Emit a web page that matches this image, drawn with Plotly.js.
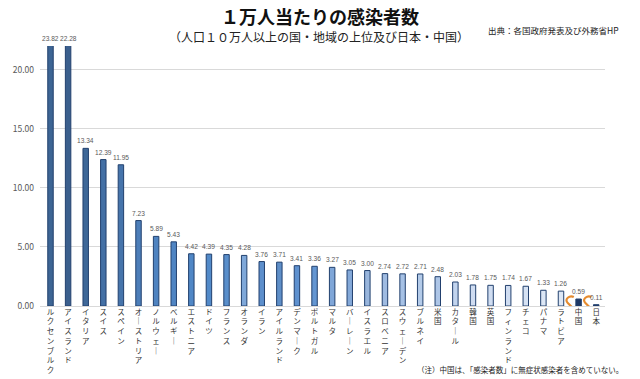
<!DOCTYPE html>
<html>
<head>
<meta charset="utf-8">
<script src="https://cdn.plot.ly/plotly-3.0.1.min.js"></script>
<style>html,body{margin:0;padding:0;background:#fff;}#chart{width:640px;height:379px;}</style>
</head>
<body>
<div id="chart"></div>
<script>
const categories = ["ルクセンブルク","アイスランド","イタリア","スイス","スペイン","オーストリア","ノルウェー","ベルギー","エストニア","ドイツ","フランス","オランダ","イラン","アイルランド","デンマーク","ポルトガル","マルタ","バーレーン","イスラエル","スロベニア","スウェーデン","ブルネイ","米国","カタール","韓国","英国","フィンランド","チェコ","パナマ","ラトビア","中国","日本"];
const values = [23.82,22.28,13.34,12.39,11.95,7.23,5.89,5.43,4.42,4.39,4.35,4.28,3.76,3.71,3.41,3.36,3.27,3.05,3.00,2.74,2.72,2.71,2.48,2.03,1.78,1.75,1.74,1.67,1.33,1.26,0.59,0.11];
const yTicks = [0,5,10,15,20];
const yMax = 22;
const breakPositions = [29.5, 30.5];

const barColors = ["#3d6594","#3b5f8d","#3f6898","#4470a5","#4674ab","#4d7eb9","#4f83c0","#5085c3","#5087c6","#528ac9","#5a8fcb","#7fa8d9","#5d8fcc","#5f8fc8","#5e91cf","#6496d2","#7fa6d8","#84a9d9","#98b5dc","#9fbbe1","#a6c1e5","#b4cbe9","#aec6e7","#c2d4ee","#cfdcf1","#d0ddf1","#d0ddf1","#d6e2f3","#dde7f5","#dde7f5","#1f3864","#1f3864"];

const FONT = '"Noto Sans CJK JP", "Noto Sans", sans-serif';
const NUMFONT = '"Liberation Sans", sans-serif';
const tickText = categories.map(c => c.replace(/ー/g, "｜").split("").join("<br>"));

const annotations = values.map((v, i) => ({
  x: categories[i], y: Math.min(v, yMax), xref: 'x', yref: 'y',
  text: v.toFixed(2), showarrow: false, yanchor: 'bottom', yshift: 2,
  font: {family: NUMFONT, size: 6.6, color: '#595959'}
}));
annotations.push({
  xref: 'paper', yref: 'paper', x: 0.494, y: 1.038, xanchor: 'center', yanchor: 'middle',
  text: '（人口１０万人以上の国・地域の上位及び日本・中国）', showarrow: false,
  font: {family: FONT, size: 12, color: '#222'}
});
annotations.push({
  xref: 'paper', yref: 'paper', x: 0.79, y: 1.0615, xanchor: 'left', yanchor: 'middle',
  text: '出典：各国政府発表及び外務省HP', showarrow: false,
  font: {family: FONT, size: 8.5, color: '#222'}
});
annotations.push({
  xref: 'paper', yref: 'paper', x: 1.0355, y: -0.246, xanchor: 'right', yanchor: 'middle',
  text: '（注）中国は、「感染者数」に無症状感染者を含めていない。', showarrow: false,
  font: {family: FONT, size: 7.5, color: '#222'}
});

const shapes = breakPositions.map(p => ({
  type: 'path', xref: 'x', yref: 'y', xsizemode: 'pixel', ysizemode: 'pixel',
  xanchor: p, yanchor: 0,
  path: 'M 4 9 C 0 11, -6 7, -2 3 L 2 -1 C 6 -5, 0 -9, -4 -7',
  line: {color: '#e58b2f', width: 2.2}, layer: 'above'
}));

const trace = {
  type: 'bar', x: categories, y: values,
  marker: {color: barColors, line: {color: '#22406e', width: 1}},
  hoverinfo: 'x+y'
};

const layout = {
  width: 640, height: 379,
  margin: {l: 40, r: 35, t: 46, b: 73},
  paper_bgcolor: '#fff', plot_bgcolor: '#fff',
  font: {family: FONT, color: '#595959'},
  title: {text: '<b>１万人当たりの感染者数</b>', x: 0.5, xanchor: 'center', y: 1 - 18/379, yanchor: 'middle', yref: 'container',
    font: {family: FONT, size: 18, color: '#111'}},
  bargap: 0.69,
  showlegend: false,
  xaxis: {type: 'category', tickvals: categories, ticktext: tickText, tickangle: 0,
    tickfont: {family: FONT, size: 7.5, color: '#333'}, showgrid: false, showline: false, ticks: ''},
  yaxis: {range: [0, yMax], tickvals: yTicks, tickformat: '.2f', tickfont: {family: FONT, size: 8.5, color: '#595959'},
    ticklabelstandoff: 5,
    gridcolor: '#d9d9d9', zeroline: true, zerolinecolor: '#d9d9d9', showline: false, ticks: ''},
  annotations: annotations,
  shapes: shapes
};

Plotly.newPlot('chart', [trace], layout, {displayModeBar: false, staticPlot: true});
</script>
</body>
</html>
